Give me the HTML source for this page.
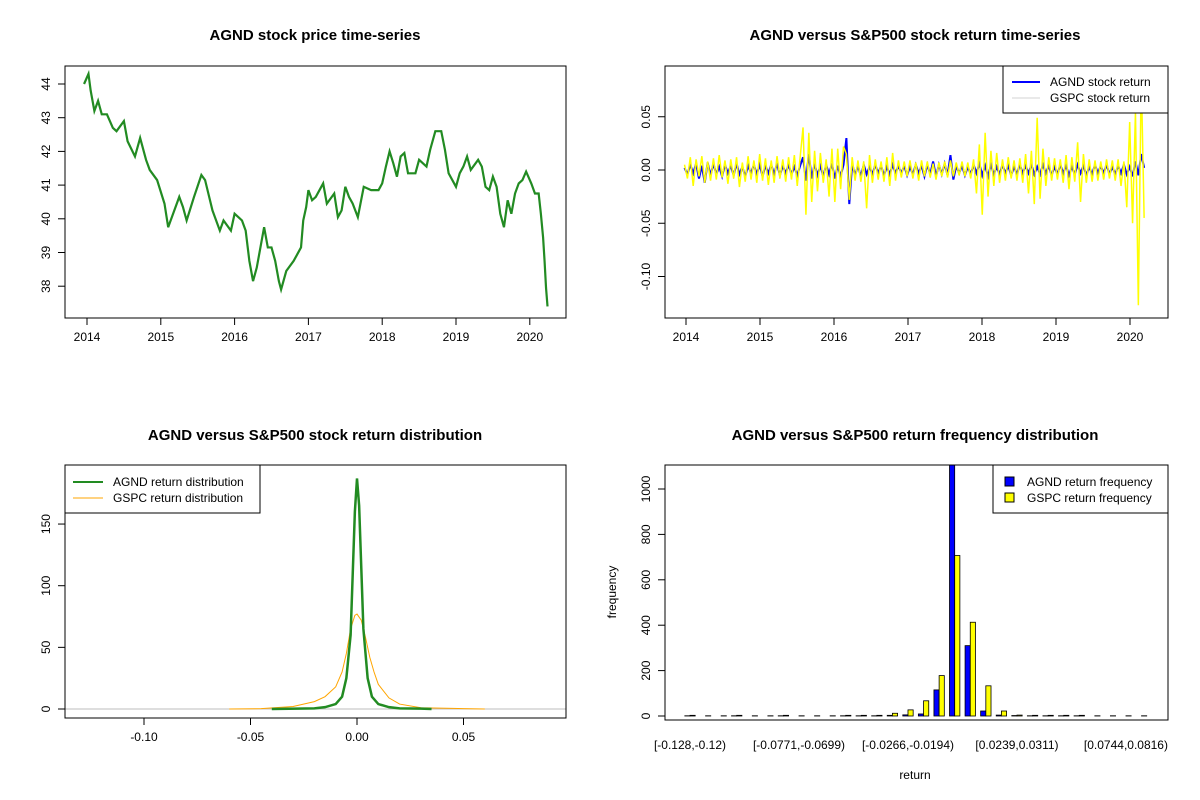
<!DOCTYPE html>
<html><head><meta charset="utf-8"><style>
body{margin:0;background:#fff;}
svg{display:block;font-family:"Liberation Sans",Arial,sans-serif;}
.t{font-weight:bold;font-size:15px;text-anchor:middle;}
.l{font-size:12px;}
</style></head><body>
<svg id="s" width="1200" height="800" xmlns="http://www.w3.org/2000/svg"></svg>
<script>
// ---- data ----
const priceYears=[2013.96,2014.02,2014.05,2014.1,2014.15,2014.2,2014.27,2014.35,2014.4,2014.5,2014.55,2014.65,2014.72,2014.8,2014.85,2014.95,2015.05,2015.1,2015.15,2015.25,2015.3,2015.35,2015.45,2015.55,2015.6,2015.7,2015.8,2015.85,2015.95,2016.0,2016.05,2016.1,2016.15,2016.2,2016.25,2016.3,2016.35,2016.4,2016.45,2016.5,2016.55,2016.6,2016.63,2016.7,2016.8,2016.85,2016.9,2016.93,2016.97,2017.0,2017.05,2017.1,2017.2,2017.25,2017.35,2017.4,2017.45,2017.5,2017.55,2017.6,2017.67,2017.75,2017.85,2017.95,2018.0,2018.05,2018.1,2018.15,2018.2,2018.25,2018.3,2018.35,2018.45,2018.5,2018.6,2018.65,2018.72,2018.8,2018.85,2018.9,2019.0,2019.05,2019.1,2019.15,2019.2,2019.3,2019.35,2019.4,2019.45,2019.5,2019.55,2019.6,2019.65,2019.7,2019.75,2019.8,2019.85,2019.9,2019.95,2020.02,2020.07,2020.12,2020.15,2020.18,2020.2,2020.22,2020.24];
const priceValues=[44.0,44.3,43.8,43.2,43.5,43.1,43.1,42.7,42.6,42.9,42.3,41.85,42.4,41.75,41.45,41.15,40.45,39.75,40.05,40.65,40.35,39.95,40.65,41.3,41.15,40.25,39.65,39.95,39.65,40.15,40.05,39.95,39.65,38.75,38.15,38.55,39.15,39.75,39.15,39.15,38.75,38.15,37.9,38.45,38.75,38.95,39.15,39.95,40.35,40.85,40.55,40.65,41.05,40.45,40.75,40.05,40.25,40.95,40.65,40.45,40.05,40.95,40.85,40.85,41.05,41.55,42.0,41.65,41.25,41.85,41.95,41.35,41.35,41.75,41.55,42.05,42.6,42.6,42.05,41.35,40.95,41.35,41.55,41.85,41.45,41.75,41.55,40.95,40.85,41.25,40.95,40.15,39.75,40.55,40.15,40.75,41.05,41.15,41.4,41.05,40.75,40.75,40.15,39.45,38.75,37.95,37.4];
const priceTicks=[38,39,40,41,42,43,44];
const yearTicks=[2014,2015,2016,2017,2018,2019,2020];

const gspcReturns=[0.005,-0.008,0.012,-0.015,0.010,-0.006,0.013,-0.012,0.008,-0.010,0.011,-0.009,0.014,-0.007,0.009,-0.013,0.010,-0.008,0.012,-0.016,0.007,-0.011,0.013,-0.009,0.009,
-0.012,0.015,-0.010,0.011,-0.014,0.009,-0.012,0.013,-0.008,0.010,-0.011,0.012,-0.009,0.014,-0.015,0.012,0.040,-0.042,0.035,-0.030,0.018,-0.020,0.016,-0.012,0.010,
-0.025,0.020,-0.030,0.020,-0.018,0.022,0.015,-0.028,0.012,-0.010,0.009,-0.011,0.008,-0.036,0.014,-0.012,0.010,-0.009,0.008,-0.011,0.012,-0.015,0.016,-0.010,0.009,
-0.007,0.008,-0.006,0.009,-0.008,0.007,-0.010,0.009,-0.006,0.008,-0.007,0.006,-0.009,0.007,-0.006,0.008,-0.007,0.009,-0.006,0.007,-0.005,0.008,-0.006,0.007,-0.008,
0.010,-0.022,0.024,-0.042,0.035,-0.025,0.018,-0.015,0.016,-0.012,0.010,-0.010,0.012,-0.008,0.009,-0.010,0.011,-0.012,0.015,-0.022,0.018,-0.032,0.049,-0.027,0.020,
-0.015,0.012,-0.010,0.011,-0.009,0.010,-0.012,0.014,-0.018,0.012,-0.011,0.026,-0.030,0.015,-0.012,0.010,-0.011,0.009,-0.010,0.008,-0.009,0.010,-0.008,0.009,-0.010,
0.010,-0.015,0.008,-0.035,0.045,-0.050,0.055,-0.127,0.090,-0.045];
const agndReturns=[0.002,-0.004,0.005,-0.003,0.006,-0.008,0.004,-0.012,0.007,-0.005,0.006,-0.004,0.003,-0.006,0.005,-0.003,0.004,-0.005,0.006,-0.004,0.003,-0.006,0.004,-0.003,0.005,
-0.004,0.005,-0.006,0.004,-0.003,0.005,-0.004,0.006,-0.005,0.004,-0.003,0.005,-0.004,0.003,-0.005,0.004,0.012,-0.010,0.015,-0.008,0.006,-0.005,0.004,-0.006,0.005,
-0.004,0.006,-0.008,0.004,-0.006,0.005,0.030,-0.032,0.006,-0.005,0.004,-0.006,0.005,-0.004,0.003,-0.004,0.005,-0.003,0.004,-0.005,0.003,-0.004,0.005,-0.003,0.004,
-0.003,0.004,-0.005,0.003,-0.004,0.005,-0.003,0.004,-0.006,0.005,-0.004,0.008,-0.006,0.005,-0.004,0.006,-0.005,0.014,-0.009,0.004,-0.003,0.004,-0.005,0.003,-0.004,
0.005,-0.003,0.006,-0.005,0.004,-0.006,0.005,-0.004,0.003,-0.004,0.005,-0.003,0.004,-0.005,0.003,-0.004,0.005,-0.003,0.004,-0.003,0.005,-0.004,0.003,-0.004,0.005,
-0.003,0.004,-0.005,0.003,-0.004,0.005,-0.003,0.004,-0.005,0.003,-0.004,0.005,-0.003,0.004,-0.005,0.003,-0.004,0.005,-0.003,0.004,-0.003,0.005,-0.004,0.003,-0.004,
0.004,-0.003,0.005,-0.004,0.003,-0.006,0.008,-0.005,0.015,0.002];
const returnTicks=[-0.10,-0.05,0.00,0.05];

const agndDensX=[-0.04,-0.02,-0.015,-0.01,-0.007,-0.005,-0.003,-0.002,-0.001,0,0.001,0.002,0.003,0.005,0.007,0.01,0.015,0.02,0.03,0.035];
const agndDensY=[0,0.5,1.5,4,10,25,60,110,160,187,165,115,65,25,10,4,1.5,0.5,0.3,0];
const gspcDensX=[-0.06,-0.045,-0.03,-0.02,-0.015,-0.01,-0.007,-0.005,-0.003,-0.001,0,0.002,0.004,0.006,0.008,0.01,0.015,0.02,0.03,0.045,0.05,0.06];
const gspcDensY=[0,0.3,2,6,10,18,30,45,65,76,77,72,58,42,30,20,9,4,1,0.5,0.3,0];
const densXTicks=[-0.10,-0.05,0.00,0.05];
const densYTicks=[0,50,100,150];

const binLabels=["[-0.128,-0.12)","[-0.0771,-0.0699)","[-0.0266,-0.0194)","[0.0239,0.0311)","[0.0744,0.0816)"];
const binLabelIdx=[0,7,14,21,28];
const agndFreq=[1,0,0,1,0,0,1,0,0,0,1,1,1,3,5,9,115,1230,310,22,4,2,1,1,1,1,0,0,0,0];
const gspcFreq=[3,1,1,3,1,1,3,1,1,1,3,3,3,12,27,67,178,707,413,133,22,4,3,3,3,3,1,1,1,1];
const freqTicks=[0,200,400,600,800,1000];

// ---- helpers ----
const NS="http://www.w3.org/2000/svg";
const svg=document.getElementById('s');
function mk(tag,at,parent){const e=document.createElementNS(NS,tag);for(const k in at)e.setAttribute(k,at[k]);(parent||svg).appendChild(e);return e;}
function txt(x,y,s,cls,extra,parent){const e=mk('text',Object.assign({x:x,y:y,class:cls},extra||{}),parent);e.textContent=s;return e;}
function panel(name,x0,y0,x1,y1){const g=mk('g',{});
 const cp=mk('clipPath',{id:'c'+name},g);mk('rect',{x:x0,y:y0,width:x1-x0,height:y1-y0},cp);return g;}
function box(g,x0,y0,x1,y1){const r=mk('rect',{x:x0,y:y0,width:x1-x0,height:y1-y0,fill:'none',stroke:'#000','stroke-width':1},g);
 }
function xtick(g,x,yb,lab){mk('line',{x1:x,x2:x,y1:yb,y2:yb+7,stroke:'#000'},g);const t=txt(x,yb+23,lab,'l',{'text-anchor':'middle'},g);}
function ytick(g,xl,y,lab){mk('line',{x1:xl,x2:xl-7,y1:y,y2:y,stroke:'#000'},g);const t=txt(xl-15,y,lab,'l',{'text-anchor':'middle',transform:`rotate(-90 ${xl-15} ${y})`},g);}

// ---- panel 1: price ----
{const x0=65,x1=566,y0=66,y1=318;const g=panel('price-panel',x0,y0,x1,y1);
 const X=v=>87+(v-2014)*73.8, Y=v=>84+(44-v)*33.7;
 const p=mk('polyline',{points:priceYears.map((v,i)=>X(v)+','+Y(priceValues[i])).join(' '),fill:'none',stroke:'#228B22','stroke-width':2.2},g);
 
 box(g,x0,y0,x1,y1);yearTicks.forEach(v=>xtick(g,X(v),y1,v));priceTicks.forEach(v=>ytick(g,x0,Y(v),v));
 const t=txt(315,40,'AGND stock price time-series','t',{},g);}

// ---- panel 2: returns ----
{const x0=665,x1=1168,y0=66,y1=318;const g=panel('returns-panel',x0,y0,x1,y1);
 const X=v=>686+(v-2014)*74, Y=v=>170-v*1065;
 const step=6.25/gspcReturns.length;
 const a=mk('polyline',{points:agndReturns.map((v,i)=>X(2013.98+i*step)+','+Y(v)).join(' '),fill:'none',stroke:'#0000ff','stroke-width':2},g);
 
 const b=mk('polyline',{points:gspcReturns.map((v,i)=>X(2013.98+i*step)+','+Y(v)).join(' '),fill:'none',stroke:'#ffff00','stroke-width':1.5},g);
 
 box(g,x0,y0,x1,y1);yearTicks.forEach(v=>xtick(g,X(v),y1,v));returnTicks.forEach(v=>ytick(g,x0,Y(v),v.toFixed(2)));
 const t=txt(915,40,'AGND versus S&P500 stock return time-series','t',{},g);
 const lg=mk('g',{},g);
 mk('rect',{x:1003,y:66,width:165,height:47,fill:'#fff',stroke:'#000'},lg);
 mk('line',{x1:1012,x2:1040,y1:82,y2:82,stroke:'#0000ff','stroke-width':2},lg);txt(1050,86,'AGND stock return','l',{},lg);
 mk('line',{x1:1012,x2:1040,y1:98,y2:98,stroke:'#d3d3d3','stroke-width':1},lg);txt(1050,102,'GSPC stock return','l',{},lg);}

// ---- panel 3: density ----
{const x0=65,x1=566,y0=465,y1=718;const g=panel('density-panel',x0,y0,x1,y1);
 const X=v=>357+v*2130, Y=v=>709-v*1.233;
 mk('line',{x1:x0,x2:x1,y1:Y(0),y2:Y(0),stroke:'#bebebe'},g);
 const o=mk('polyline',{points:gspcDensX.map((v,i)=>X(v)+','+Y(gspcDensY[i])).join(' '),fill:'none',stroke:'#ffa500','stroke-width':1},g);
 
 const gr=mk('polyline',{points:agndDensX.map((v,i)=>X(v)+','+Y(agndDensY[i])).join(' '),fill:'none',stroke:'#228B22','stroke-width':2.5},g);
 
 box(g,x0,y0,x1,y1);densXTicks.forEach(v=>xtick(g,X(v),y1,v.toFixed(2)));densYTicks.forEach(v=>ytick(g,x0,Y(v),v));
 const t=txt(315,440,'AGND versus S&P500 stock return distribution','t',{},g);
 const lg=mk('g',{},g);
 mk('rect',{x:65,y:465,width:195,height:48,fill:'#fff',stroke:'#000'},lg);
 mk('line',{x1:73,x2:103,y1:482,y2:482,stroke:'#228B22','stroke-width':2},lg);txt(113,486,'AGND return distribution','l',{},lg);
 mk('line',{x1:73,x2:103,y1:498,y2:498,stroke:'#ffa500'},lg);txt(113,502,'GSPC return distribution','l',{},lg);}

// ---- panel 4: histogram ----
{const x0=665,x1=1168,y0=465,y1=720;const g=panel('freq-panel',x0,y0,x1,y1);
 const C=i=>690+i*15.57, Y=v=>716-v*0.227, w=5.19;
 const bg=mk('g',{'clip-path':'url(#cfreq-panel)'},g);
 agndFreq.forEach((v,i)=>{const r=mk('rect',{x:C(i)-w,y:Y(v),width:w,height:716-Y(v),fill:'#0000ff',stroke:'#000','stroke-width':0.8},bg);
  });
 gspcFreq.forEach((v,i)=>{const r=mk('rect',{x:C(i),y:Y(v),width:w,height:716-Y(v),fill:'#ffff00',stroke:'#000','stroke-width':0.8},bg);
  });
 box(g,x0,y0,x1,y1);freqTicks.forEach(v=>ytick(g,x0,Y(v),v));
 binLabelIdx.forEach((b,k)=>{const t=txt(C(b),749,binLabels[k],'l',{'text-anchor':'middle'},g);});
 const xl=txt(915,779,'return','l',{'text-anchor':'middle'},g);
 const yl=txt(616,592,'frequency','l',{'text-anchor':'middle',transform:'rotate(-90 616 592)'},g);
 const t=txt(915,440,'AGND versus S&P500 return frequency distribution','t',{},g);
 const lg=mk('g',{},g);
 mk('rect',{x:993,y:465,width:175,height:48,fill:'#fff',stroke:'#000'},lg);
 mk('rect',{x:1005,y:477,width:9,height:9,fill:'#0000ff',stroke:'#000'},lg);txt(1027,486,'AGND return frequency','l',{},lg);
 mk('rect',{x:1005,y:493,width:9,height:9,fill:'#ffff00',stroke:'#000'},lg);txt(1027,502,'GSPC return frequency','l',{},lg);}
</script>
</body></html>
